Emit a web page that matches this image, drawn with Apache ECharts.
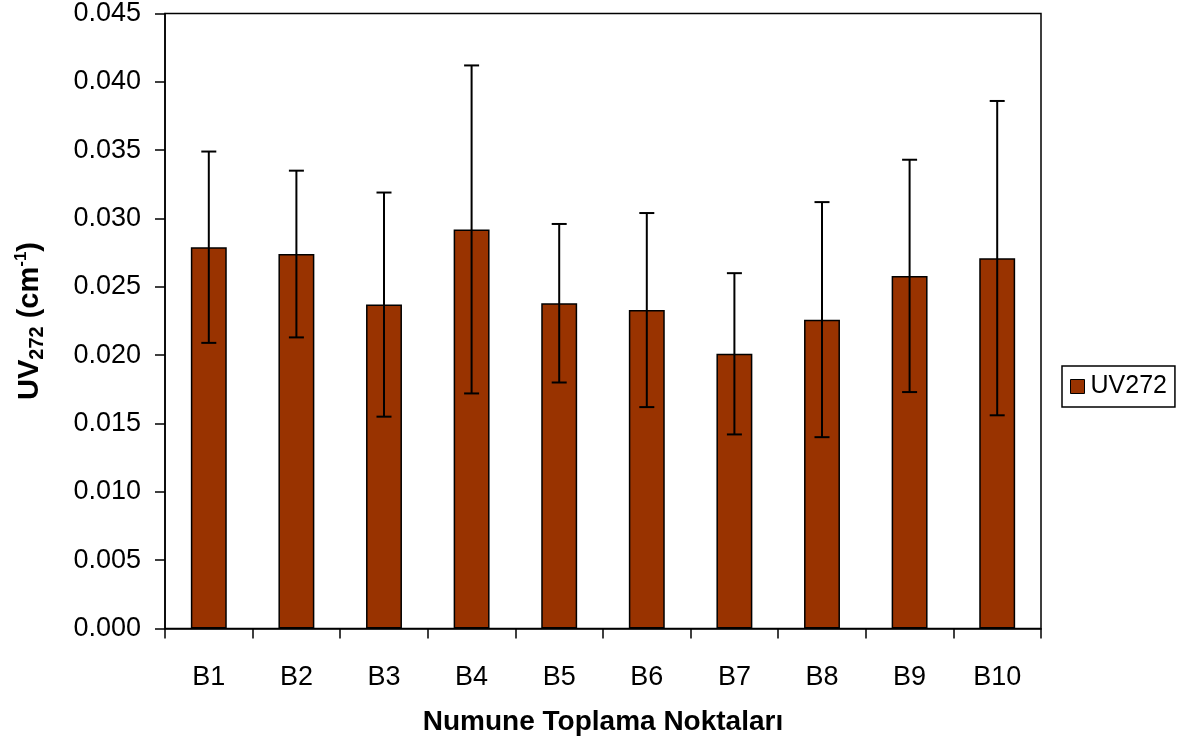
<!DOCTYPE html>
<html>
<head>
<meta charset="utf-8">
<script src="https://cdn.jsdelivr.net/npm/echarts@6/dist/echarts.min.js"></script>
<style>
  html, body { margin: 0; padding: 0; background: #fff; }
  #uvChart { width: 1184px; height: 749px; }
</style>
</head>
<body>
<div id="uvChart"></div>
<script>
// sampling points
var categories = ['B1', 'B2', 'B3', 'B4', 'B5', 'B6', 'B7', 'B8', 'B9', 'B10']
// mean UV272 absorbance (cm-1)
var uvMeans = [0.0279, 0.0274, 0.0237, 0.0292, 0.0238, 0.0233, 0.0201, 0.0226, 0.0258, 0.0271]
// standard deviation, drawn as +/- error bars
var uvStd = [0.0070, 0.0061, 0.0082, 0.0120, 0.0058, 0.0071, 0.0059, 0.0086, 0.0085, 0.0115]

var font = 'Liberation Sans, Arial, sans-serif'

var errData = categories.map(function (c, i) {
  return [i, uvMeans[i], uvStd[i]]
})

var myChart = echarts.init(document.getElementById('uvChart'))
myChart.setOption({
  animation: false,
  backgroundColor: '#fff',
  textStyle: { fontFamily: font, color: '#000' },
  grid: {
    left: 165,
    right: 143,
    top: 13.5,
    bottom: 120.5,
    show: true,
    borderColor: '#000',
    borderWidth: 1.5,
    containLabel: false,
  },
  legend: {
    data: ['UV272'],
    left: 1062,
    top: 366,
    orient: 'vertical',
    icon: 'rect',
    itemWidth: 14,
    itemHeight: 14,
    itemGap: 0,
    padding: [8, 8, 8, 8],
    borderColor: '#000',
    borderWidth: 1.5,
    itemStyle: { borderColor: '#000', borderWidth: 1 },
    textStyle: { fontFamily: font, fontSize: 25, color: '#000', padding: [0, 0, 0, 1] },
  },
  xAxis: {
    type: 'category',
    data: categories,
    name: 'Numune Toplama Noktaları',
    nameLocation: 'middle',
    nameGap: 80,
    nameTextStyle: { fontFamily: font, fontSize: 28, fontWeight: 'bold', color: '#000' },
    axisLine: { lineStyle: { color: '#000', width: 1.5 } },
    axisTick: { show: true, interval: 0, length: 10, lineStyle: { color: '#000', width: 1.5 } },
    axisLabel: { interval: 0, margin: 36, fontFamily: font, fontSize: 27, color: '#000' },
    splitLine: { show: false },
  },
  yAxis: {
    type: 'value',
    min: 0,
    max: 0.045,
    interval: 0.005,
    name: '{b|UV}{sub|272}{b| (cm}{sup|-1}{b|)}',
    nameLocation: 'middle',
    nameRotate: 90,
    nameGap: 118,
    nameTextStyle: {
      rich: {
        b: { fontFamily: font, fontSize: 29, fontWeight: 'bold', color: '#000', lineHeight: 34 },
        sub: { fontFamily: font, fontSize: 20, fontWeight: 'bold', color: '#000', lineHeight: 20, verticalAlign: 'bottom' },
        sup: { fontFamily: font, fontSize: 17, fontWeight: 'bold', color: '#000', lineHeight: 17, verticalAlign: 'top' },
      },
    },
    axisLine: { show: true, lineStyle: { color: '#000', width: 1.5 } },
    axisTick: { show: true, length: 10, lineStyle: { color: '#000', width: 1.5 } },
    axisLabel: {
      margin: 24,
      fontFamily: font,
      fontSize: 27,
      color: '#000',
      formatter: function (v) {
        return v.toFixed(3)
      },
    },
    splitLine: { show: false },
  },
  series: [
    {
      name: 'UV272',
      type: 'bar',
      data: uvMeans,
      barWidth: '41%',
      itemStyle: { color: '#993300', borderColor: '#000', borderWidth: 1.5 },
      z: 2,
    },
    {
      name: 'err',
      type: 'custom',
      data: errData,
      z: 5,
      silent: true,
      renderItem: function (params, api) {
        var x = api.value(0)
        var m = api.value(1)
        var s = api.value(2)
        var hi = api.coord([x, m + s])
        var lo = api.coord([x, m - s])
        var half = 7.5
        var st = { stroke: '#000', lineWidth: 2 }
        return {
          type: 'group',
          children: [
            { type: 'line', shape: { x1: hi[0], y1: hi[1], x2: lo[0], y2: lo[1] }, style: st },
            { type: 'line', shape: { x1: hi[0] - half, y1: hi[1], x2: hi[0] + half, y2: hi[1] }, style: st },
            { type: 'line', shape: { x1: lo[0] - half, y1: lo[1], x2: lo[0] + half, y2: lo[1] }, style: st },
          ],
        }
      },
    },
  ],
})
</script>
</body>
</html>
